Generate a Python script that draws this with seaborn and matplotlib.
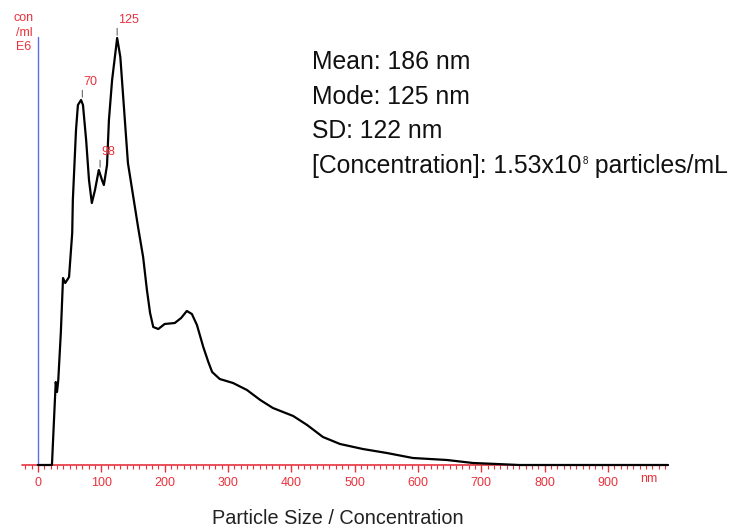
import matplotlib
matplotlib.use("Agg")
import matplotlib.pyplot as plt
import seaborn as sns
import numpy as np
import pandas as pd
from matplotlib.ticker import MultipleLocator

# Particle size (nm) and concentration (arbitrary units, E6/ml scale)
size_nm = [0, 10, 20, 22, 25, 28, 30, 32, 36, 39.5, 43, 49, 54, 55, 60, 63, 68, 71, 76,
           80.5, 85, 90, 96, 101, 104, 109, 112, 117, 125, 130, 136, 142, 150, 158, 166,
           172, 177, 182, 190, 200, 216, 226, 235, 243, 251, 261, 269, 275, 287, 308,
           330, 351, 371, 403, 425, 450, 477, 513, 551, 592, 646, 687, 725, 760, 850, 995]
concentration = [0, 0, 0, 0, 42, 83, 73, 85, 132, 187, 182, 188, 232, 265, 335, 360, 365, 360, 325,
                 285, 262, 275, 295, 285, 280, 300, 345, 385, 427, 408, 355, 302, 270, 238, 208,
                 175, 152, 138, 136, 141, 142, 147, 154, 151, 140, 118, 103, 93, 86, 82,
                 75, 65, 57, 49, 40, 28, 21, 16, 12, 7, 5, 2, 1, 0, 0, 0]

peak_sizes = [70, 98, 125]
peak_labels = ["70", "98", "125"]
peak_heights = [365, 295, 427]

tick_values = [0, 100, 200, 300, 400, 500, 600, 700, 800, 900]

stats_lines = ["Mean: 186 nm", "Mode: 125 nm", "SD: 122 nm"]
conc_prefix = "[Concentration]: 1.53x10"
conc_exp = "8"
conc_suffix = " particles/mL"

RED = "#e8323c"
BLUE = "#5a6ee8"

sns.set_style("white")
plt.rcParams["font.family"] = ["Liberation Sans", "DejaVu Sans"]

fig = plt.figure(figsize=(7.33, 5.30), dpi=100)
W, H = 733, 530
left_px, right_px = 22, 668
top_px, bottom_px = 37, 465
ax = fig.add_axes([left_px / W, (H - bottom_px) / H,
                   (right_px - left_px) / W, (bottom_px - top_px) / H])

df = pd.DataFrame({"size": size_nm, "conc": concentration})
sns.lineplot(data=df, x="size", y="conc", ax=ax, color="black", linewidth=1.6,
             zorder=3, estimator=None, sort=False)
for line in ax.lines:
    line.set_clip_on(False)

ax.set_xlim(-25.3, 995)
ax.set_ylim(0, 428)

for s in ax.spines.values():
    s.set_visible(False)
ax.axhline(0, color=RED, linewidth=1.2, zorder=2, clip_on=False)
ax.plot([0, 0], [0, 428], color=BLUE, linewidth=1.0, zorder=1, clip_on=False)

ax.set_xticks(tick_values)
ax.set_xticklabels([str(v) for v in tick_values])
ax.xaxis.set_minor_locator(MultipleLocator(10))
ax.tick_params(axis="x", which="major", direction="out", length=5, width=1,
               colors=RED, labelsize=9, pad=4, bottom=True)
ax.tick_params(axis="x", which="minor", direction="out", length=3, width=0.8,
               colors=RED, bottom=True)
ax.set_yticks([])
ax.set_xlabel("")
ax.set_ylabel("")

# "nm" unit label
ax.text(964, -8, "nm", color=RED, fontsize=9, ha="center", va="top",
        transform=ax.transData, clip_on=False)

# y unit label
fig.text(24 / W, 1 - 12 / H, "con\n/ml\nE6", color=RED, fontsize=9, ha="center",
         va="top", linespacing=1.3)

# peak annotations
for xs, lab, yh in zip(peak_sizes, peak_labels, peak_heights):
    ax.annotate("", xy=(xs, yh), xytext=(0, 9), textcoords="offset points",
                arrowprops=dict(arrowstyle="-", color="#666666", lw=0.8),
                annotation_clip=False)
    ax.annotate(lab, xy=(xs, yh), xytext=(1, 9), textcoords="offset points",
                color=RED, fontsize=9, ha="left", va="bottom", annotation_clip=False)

# statistics text
FS = 17.8
for i, line in enumerate(stats_lines):
    fig.text(312 / W, 1 - (62 + 34.5 * i) / H, line, fontsize=FS,
             ha="left", va="center", color="#111111")

y_conc = 1 - (62 + 34.5 * 3) / H
t1 = fig.text(312 / W, y_conc, conc_prefix, fontsize=FS, ha="left", va="center",
              color="#111111")
fig.canvas.draw()
r = fig.canvas.get_renderer()
bb = t1.get_window_extent(r)
x_exp = bb.x1 + 1
t2 = fig.text(x_exp / W, y_conc + 5 / H, conc_exp, fontsize=7, ha="left", va="center",
              color="#111111")
bb2 = t2.get_window_extent(r)
fig.text((bb2.x1 + 0) / W, y_conc, conc_suffix, fontsize=FS, ha="left", va="center",
         color="#111111")

fig.text(338 / W, 1 - 519 / H, "Particle Size / Concentration", fontsize=14.3,
         ha="center", va="center", color="#222222")

fig.savefig("out.png", dpi=100)
